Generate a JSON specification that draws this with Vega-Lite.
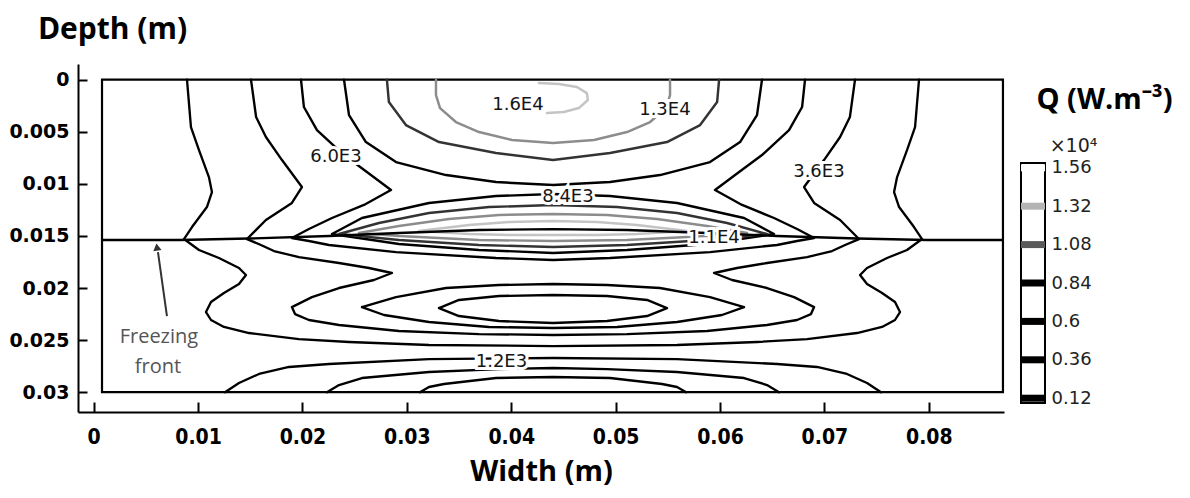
{
"$schema": "https://vega.github.io/schema/vega-lite/v6.json",
"background": "white",
"autosize": {"type": "pad"},
"padding": {"left": 8, "top": 14, "right": 0, "bottom": 8},
"bounds": "flush",
"spacing": 17,
"config": {"view": {"stroke": null}, "axis": {"grid": false}},
"resolve": {"scale": {"x": "independent", "y": "independent", "color": "independent", "stroke": "independent", "strokeWidth": "independent"}},
"datasets": {
"contours": [
{"c":"A","lv":"1200","i":0,"x":0.00894,"y":0},
{"c":"A","lv":"1200","i":1,"x":0.00932,"y":0.00455},
{"c":"A","lv":"1200","i":2,"x":0.01009,"y":0.00676},
{"c":"A","lv":"1200","i":3,"x":0.01104,"y":0.00935},
{"c":"A","lv":"1200","i":4,"x":0.01133,"y":0.01079},
{"c":"A","lv":"1200","i":5,"x":0.01085,"y":0.01223},
{"c":"A","lv":"1200","i":6,"x":0.00942,"y":0.01415},
{"c":"A","lv":"1200","i":7,"x":0.00865,"y":0.0153},
{"c":"A","lv":"1200","i":8,"x":0.01009,"y":0.01635},
{"c":"A","lv":"1200","i":9,"x":0.012,"y":0.01712},
{"c":"A","lv":"1200","i":10,"x":0.01392,"y":0.01808},
{"c":"A","lv":"1200","i":11,"x":0.01459,"y":0.01875},
{"c":"A","lv":"1200","i":12,"x":0.01392,"y":0.01962},
{"c":"A","lv":"1200","i":13,"x":0.01248,"y":0.02048},
{"c":"A","lv":"1200","i":14,"x":0.01124,"y":0.02135},
{"c":"A","lv":"1200","i":15,"x":0.01076,"y":0.02231},
{"c":"A","lv":"1200","i":16,"x":0.01124,"y":0.02307},
{"c":"A","lv":"1200","i":17,"x":0.01248,"y":0.02374},
{"c":"A","lv":"1200","i":18,"x":0.01488,"y":0.02432},
{"c":"A","lv":"1200","i":19,"x":0.01966,"y":0.0249},
{"c":"A","lv":"1200","i":20,"x":0.02446,"y":0.02518},
{"c":"A","lv":"1200","i":21,"x":0.03212,"y":0.02547},
{"c":"A","lv":"1200","i":22,"x":0.044,"y":0.02557},
{"c":"A","lv":"1200","i":23,"x":0.05588,"y":0.02547},
{"c":"A","lv":"1200","i":24,"x":0.06354,"y":0.02518},
{"c":"A","lv":"1200","i":25,"x":0.06834,"y":0.0249},
{"c":"A","lv":"1200","i":26,"x":0.07312,"y":0.02432},
{"c":"A","lv":"1200","i":27,"x":0.07552,"y":0.02374},
{"c":"A","lv":"1200","i":28,"x":0.07676,"y":0.02307},
{"c":"A","lv":"1200","i":29,"x":0.07724,"y":0.02231},
{"c":"A","lv":"1200","i":30,"x":0.07676,"y":0.02135},
{"c":"A","lv":"1200","i":31,"x":0.07552,"y":0.02048},
{"c":"A","lv":"1200","i":32,"x":0.07408,"y":0.01962},
{"c":"A","lv":"1200","i":33,"x":0.07341,"y":0.01875},
{"c":"A","lv":"1200","i":34,"x":0.07408,"y":0.01808},
{"c":"A","lv":"1200","i":35,"x":0.076,"y":0.01712},
{"c":"A","lv":"1200","i":36,"x":0.07791,"y":0.01635},
{"c":"A","lv":"1200","i":37,"x":0.07935,"y":0.0153},
{"c":"A","lv":"1200","i":38,"x":0.07858,"y":0.01415},
{"c":"A","lv":"1200","i":39,"x":0.07715,"y":0.01223},
{"c":"A","lv":"1200","i":40,"x":0.07667,"y":0.01079},
{"c":"A","lv":"1200","i":41,"x":0.07696,"y":0.00935},
{"c":"A","lv":"1200","i":42,"x":0.07791,"y":0.00676},
{"c":"A","lv":"1200","i":43,"x":0.07868,"y":0.00455},
{"c":"A","lv":"1200","i":44,"x":0.07906,"y":0},
{"c":"B","lv":"3600","i":0,"x":0.01507,"y":0},
{"c":"B","lv":"3600","i":1,"x":0.01556,"y":0.00359},
{"c":"B","lv":"3600","i":2,"x":0.0165,"y":0.00551},
{"c":"B","lv":"3600","i":3,"x":0.01804,"y":0.00772},
{"c":"B","lv":"3600","i":4,"x":0.01995,"y":0.01031},
{"c":"B","lv":"3600","i":5,"x":0.01899,"y":0.01184},
{"c":"B","lv":"3600","i":6,"x":0.0165,"y":0.01347},
{"c":"B","lv":"3600","i":7,"x":0.01469,"y":0.0153},
{"c":"B","lv":"3600","i":8,"x":0.01602,"y":0.01587},
{"c":"B","lv":"3600","i":9,"x":0.01727,"y":0.01645},
{"c":"B","lv":"3600","i":10,"x":0.01966,"y":0.01703},
{"c":"B","lv":"3600","i":11,"x":0.0235,"y":0.0176},
{"c":"B","lv":"3600","i":12,"x":0.02637,"y":0.01808},
{"c":"B","lv":"3600","i":13,"x":0.02857,"y":0.01856},
{"c":"B","lv":"3600","i":14,"x":0.02685,"y":0.01923},
{"c":"B","lv":"3600","i":15,"x":0.0235,"y":0.02},
{"c":"B","lv":"3600","i":16,"x":0.02091,"y":0.02087},
{"c":"B","lv":"3600","i":17,"x":0.01899,"y":0.02183},
{"c":"B","lv":"3600","i":18,"x":0.01929,"y":0.0225},
{"c":"B","lv":"3600","i":19,"x":0.02062,"y":0.02307},
{"c":"B","lv":"3600","i":20,"x":0.0235,"y":0.02355},
{"c":"B","lv":"3600","i":21,"x":0.02924,"y":0.02413},
{"c":"B","lv":"3600","i":22,"x":0.03691,"y":0.02442},
{"c":"B","lv":"3600","i":23,"x":0.044,"y":0.02451},
{"c":"B","lv":"3600","i":24,"x":0.05109,"y":0.02442},
{"c":"B","lv":"3600","i":25,"x":0.05876,"y":0.02413},
{"c":"B","lv":"3600","i":26,"x":0.0645,"y":0.02355},
{"c":"B","lv":"3600","i":27,"x":0.06738,"y":0.02307},
{"c":"B","lv":"3600","i":28,"x":0.06871,"y":0.0225},
{"c":"B","lv":"3600","i":29,"x":0.06901,"y":0.02183},
{"c":"B","lv":"3600","i":30,"x":0.06709,"y":0.02087},
{"c":"B","lv":"3600","i":31,"x":0.0645,"y":0.02},
{"c":"B","lv":"3600","i":32,"x":0.06115,"y":0.01923},
{"c":"B","lv":"3600","i":33,"x":0.05943,"y":0.01856},
{"c":"B","lv":"3600","i":34,"x":0.06163,"y":0.01808},
{"c":"B","lv":"3600","i":35,"x":0.0645,"y":0.0176},
{"c":"B","lv":"3600","i":36,"x":0.06834,"y":0.01703},
{"c":"B","lv":"3600","i":37,"x":0.07073,"y":0.01645},
{"c":"B","lv":"3600","i":38,"x":0.07198,"y":0.01587},
{"c":"B","lv":"3600","i":39,"x":0.07331,"y":0.0153},
{"c":"B","lv":"3600","i":40,"x":0.0715,"y":0.01347},
{"c":"B","lv":"3600","i":41,"x":0.06901,"y":0.01184},
{"c":"B","lv":"3600","i":42,"x":0.06805,"y":0.01031},
{"c":"B","lv":"3600","i":43,"x":0.06996,"y":0.00772},
{"c":"B","lv":"3600","i":44,"x":0.0715,"y":0.00551},
{"c":"B","lv":"3600","i":45,"x":0.07244,"y":0.00359},
{"c":"B","lv":"3600","i":46,"x":0.07293,"y":0},
{"c":"C","lv":"6000","i":0,"x":0.01986,"y":0},
{"c":"C","lv":"6000","i":1,"x":0.02014,"y":0.00263},
{"c":"C","lv":"6000","i":2,"x":0.02139,"y":0.00484},
{"c":"C","lv":"6000","i":3,"x":0.02398,"y":0.00724},
{"c":"C","lv":"6000","i":4,"x":0.02656,"y":0.00916},
{"c":"C","lv":"6000","i":5,"x":0.02848,"y":0.0106},
{"c":"C","lv":"6000","i":6,"x":0.02589,"y":0.01203},
{"c":"C","lv":"6000","i":7,"x":0.02283,"y":0.01328},
{"c":"C","lv":"6000","i":8,"x":0.02062,"y":0.01434},
{"c":"C","lv":"6000","i":9,"x":0.01899,"y":0.0152},
{"c":"C","lv":"6000","i":10,"x":0.02062,"y":0.01549},
{"c":"C","lv":"6000","i":11,"x":0.02254,"y":0.01587},
{"c":"C","lv":"6000","i":12,"x":0.02896,"y":0.01655},
{"c":"C","lv":"6000","i":13,"x":0.03854,"y":0.01712},
{"c":"C","lv":"6000","i":14,"x":0.044,"y":0.01731},
{"c":"C","lv":"6000","i":15,"x":0.04946,"y":0.01712},
{"c":"C","lv":"6000","i":16,"x":0.05904,"y":0.01655},
{"c":"C","lv":"6000","i":17,"x":0.06546,"y":0.01587},
{"c":"C","lv":"6000","i":18,"x":0.06738,"y":0.01549},
{"c":"C","lv":"6000","i":19,"x":0.06901,"y":0.0152},
{"c":"C","lv":"6000","i":20,"x":0.06738,"y":0.01434},
{"c":"C","lv":"6000","i":21,"x":0.06517,"y":0.01328},
{"c":"C","lv":"6000","i":22,"x":0.06211,"y":0.01203},
{"c":"C","lv":"6000","i":23,"x":0.05952,"y":0.0106},
{"c":"C","lv":"6000","i":24,"x":0.06144,"y":0.00916},
{"c":"C","lv":"6000","i":25,"x":0.06402,"y":0.00724},
{"c":"C","lv":"6000","i":26,"x":0.06661,"y":0.00484},
{"c":"C","lv":"6000","i":27,"x":0.06786,"y":0.00263},
{"c":"C","lv":"6000","i":28,"x":0.06814,"y":0},
{"c":"D","lv":"8400","i":0,"x":0.02398,"y":0},
{"c":"D","lv":"8400","i":1,"x":0.02446,"y":0.0034},
{"c":"D","lv":"8400","i":2,"x":0.02608,"y":0.00599},
{"c":"D","lv":"8400","i":3,"x":0.02896,"y":0.00791},
{"c":"D","lv":"8400","i":4,"x":0.03375,"y":0.00916},
{"c":"D","lv":"8400","i":5,"x":0.03854,"y":0.00983},
{"c":"D","lv":"8400","i":6,"x":0.044,"y":0.01012},
{"c":"D","lv":"8400","i":7,"x":0.04946,"y":0.00983},
{"c":"D","lv":"8400","i":8,"x":0.05425,"y":0.00916},
{"c":"D","lv":"8400","i":9,"x":0.05904,"y":0.00791},
{"c":"D","lv":"8400","i":10,"x":0.06192,"y":0.00599},
{"c":"D","lv":"8400","i":11,"x":0.06354,"y":0.0034},
{"c":"D","lv":"8400","i":12,"x":0.06402,"y":0},
{"c":"E","lv":"8400","i":0,"x":0.02283,"y":0.01482},
{"c":"E","lv":"8400","i":1,"x":0.0257,"y":0.01328},
{"c":"E","lv":"8400","i":2,"x":0.03212,"y":0.01184},
{"c":"E","lv":"8400","i":3,"x":0.03854,"y":0.01117},
{"c":"E","lv":"8400","i":4,"x":0.044,"y":0.01098},
{"c":"E","lv":"8400","i":5,"x":0.04946,"y":0.01117},
{"c":"E","lv":"8400","i":6,"x":0.05588,"y":0.01184},
{"c":"E","lv":"8400","i":7,"x":0.0623,"y":0.01328},
{"c":"E","lv":"8400","i":8,"x":0.06517,"y":0.01482},
{"c":"E","lv":"8400","i":9,"x":0.05876,"y":0.01578},
{"c":"E","lv":"8400","i":10,"x":0.05109,"y":0.01635},
{"c":"E","lv":"8400","i":11,"x":0.044,"y":0.01664},
{"c":"E","lv":"8400","i":12,"x":0.03691,"y":0.01635},
{"c":"E","lv":"8400","i":13,"x":0.02924,"y":0.01578},
{"c":"E","lv":"8400","i":14,"x":0.02283,"y":0.01482},
{"c":"F","lv":"10800","i":0,"x":0.02809,"y":0},
{"c":"F","lv":"10800","i":1,"x":0.02828,"y":0.00215},
{"c":"F","lv":"10800","i":2,"x":0.02991,"y":0.00436},
{"c":"F","lv":"10800","i":3,"x":0.03308,"y":0.00599},
{"c":"F","lv":"10800","i":4,"x":0.03854,"y":0.00704},
{"c":"F","lv":"10800","i":5,"x":0.044,"y":0.00772},
{"c":"F","lv":"10800","i":6,"x":0.04946,"y":0.00704},
{"c":"F","lv":"10800","i":7,"x":0.05492,"y":0.00599},
{"c":"F","lv":"10800","i":8,"x":0.05809,"y":0.00436},
{"c":"F","lv":"10800","i":9,"x":0.05972,"y":0.00215},
{"c":"F","lv":"10800","i":10,"x":0.05991,"y":0},
{"c":"G","lv":"10800","i":0,"x":0.0235,"y":0.01482},
{"c":"G","lv":"10800","i":1,"x":0.02733,"y":0.01376},
{"c":"G","lv":"10800","i":2,"x":0.03212,"y":0.0128},
{"c":"G","lv":"10800","i":3,"x":0.03787,"y":0.01223},
{"c":"G","lv":"10800","i":4,"x":0.044,"y":0.01203},
{"c":"G","lv":"10800","i":5,"x":0.05013,"y":0.01223},
{"c":"G","lv":"10800","i":6,"x":0.05588,"y":0.0128},
{"c":"G","lv":"10800","i":7,"x":0.06067,"y":0.01376},
{"c":"G","lv":"10800","i":8,"x":0.0645,"y":0.01482},
{"c":"G","lv":"10800","i":9,"x":0.05876,"y":0.01539},
{"c":"G","lv":"10800","i":10,"x":0.05109,"y":0.01587},
{"c":"G","lv":"10800","i":11,"x":0.044,"y":0.01607},
{"c":"G","lv":"10800","i":12,"x":0.03691,"y":0.01587},
{"c":"G","lv":"10800","i":13,"x":0.02924,"y":0.01539},
{"c":"G","lv":"10800","i":14,"x":0.0235,"y":0.01482},
{"c":"H","lv":"13200","i":0,"x":0.03279,"y":0},
{"c":"H","lv":"13200","i":1,"x":0.03279,"y":0.00148},
{"c":"H","lv":"13200","i":2,"x":0.03318,"y":0.00273},
{"c":"H","lv":"13200","i":3,"x":0.0347,"y":0.00407},
{"c":"H","lv":"13200","i":4,"x":0.03691,"y":0.00503},
{"c":"H","lv":"13200","i":5,"x":0.04007,"y":0.0058},
{"c":"H","lv":"13200","i":6,"x":0.044,"y":0.00608},
{"c":"H","lv":"13200","i":7,"x":0.04793,"y":0.0058},
{"c":"H","lv":"13200","i":8,"x":0.05109,"y":0.00503},
{"c":"H","lv":"13200","i":9,"x":0.0533,"y":0.00407},
{"c":"H","lv":"13200","i":10,"x":0.05482,"y":0.00273},
{"c":"H","lv":"13200","i":11,"x":0.05521,"y":0.00148},
{"c":"H","lv":"13200","i":12,"x":0.05521,"y":0},
{"c":"I","lv":"13200","i":0,"x":0.02541,"y":0.01472},
{"c":"I","lv":"13200","i":1,"x":0.02924,"y":0.01405},
{"c":"I","lv":"13200","i":2,"x":0.03403,"y":0.01338},
{"c":"I","lv":"13200","i":3,"x":0.03882,"y":0.01299},
{"c":"I","lv":"13200","i":4,"x":0.044,"y":0.0129},
{"c":"I","lv":"13200","i":5,"x":0.04918,"y":0.01299},
{"c":"I","lv":"13200","i":6,"x":0.05397,"y":0.01338},
{"c":"I","lv":"13200","i":7,"x":0.05876,"y":0.01405},
{"c":"I","lv":"13200","i":8,"x":0.06259,"y":0.01472},
{"c":"I","lv":"13200","i":9,"x":0.05876,"y":0.01501},
{"c":"I","lv":"13200","i":10,"x":0.05109,"y":0.01539},
{"c":"I","lv":"13200","i":11,"x":0.044,"y":0.01549},
{"c":"I","lv":"13200","i":12,"x":0.03691,"y":0.01539},
{"c":"I","lv":"13200","i":13,"x":0.02924,"y":0.01501},
{"c":"I","lv":"13200","i":14,"x":0.02541,"y":0.01472},
{"c":"J","lv":"15600","i":0,"x":0.03116,"y":0.01453},
{"c":"J","lv":"15600","i":1,"x":0.03595,"y":0.01395},
{"c":"J","lv":"15600","i":2,"x":0.03978,"y":0.01367},
{"c":"J","lv":"15600","i":3,"x":0.044,"y":0.01357},
{"c":"J","lv":"15600","i":4,"x":0.04822,"y":0.01367},
{"c":"J","lv":"15600","i":5,"x":0.05205,"y":0.01395},
{"c":"J","lv":"15600","i":6,"x":0.05684,"y":0.01453},
{"c":"J","lv":"15600","i":7,"x":0.05205,"y":0.01482},
{"c":"J","lv":"15600","i":8,"x":0.04822,"y":0.01491},
{"c":"J","lv":"15600","i":9,"x":0.044,"y":0.01491},
{"c":"J","lv":"15600","i":10,"x":0.03978,"y":0.01491},
{"c":"J","lv":"15600","i":11,"x":0.03595,"y":0.01482},
{"c":"J","lv":"15600","i":12,"x":0.03116,"y":0.01453},
{"c":"K","lv":"15600","i":0,"x":0.04342,"y":0.00321},
{"c":"K","lv":"15600","i":1,"x":0.04504,"y":0.00311},
{"c":"K","lv":"15600","i":2,"x":0.04648,"y":0.00273},
{"c":"K","lv":"15600","i":3,"x":0.04734,"y":0.00196},
{"c":"K","lv":"15600","i":4,"x":0.04724,"y":0.00129},
{"c":"K","lv":"15600","i":5,"x":0.04629,"y":0.00071},
{"c":"K","lv":"15600","i":6,"x":0.04456,"y":0.00042},
{"c":"K","lv":"15600","i":7,"x":0.04265,"y":0.00033},
{"c":"L","lv":"6000","i":0,"x":0.0257,"y":0.02183},
{"c":"L","lv":"6000","i":1,"x":0.02896,"y":0.02087},
{"c":"L","lv":"6000","i":2,"x":0.03375,"y":0.02},
{"c":"L","lv":"6000","i":3,"x":0.03882,"y":0.01971},
{"c":"L","lv":"6000","i":4,"x":0.044,"y":0.01962},
{"c":"L","lv":"6000","i":5,"x":0.04918,"y":0.01971},
{"c":"L","lv":"6000","i":6,"x":0.05425,"y":0.02},
{"c":"L","lv":"6000","i":7,"x":0.05904,"y":0.02087},
{"c":"L","lv":"6000","i":8,"x":0.0623,"y":0.02183},
{"c":"L","lv":"6000","i":9,"x":0.06019,"y":0.02259},
{"c":"L","lv":"6000","i":10,"x":0.05588,"y":0.02326},
{"c":"L","lv":"6000","i":11,"x":0.05013,"y":0.02374},
{"c":"L","lv":"6000","i":12,"x":0.044,"y":0.02384},
{"c":"L","lv":"6000","i":13,"x":0.03787,"y":0.02374},
{"c":"L","lv":"6000","i":14,"x":0.03212,"y":0.02326},
{"c":"L","lv":"6000","i":15,"x":0.02781,"y":0.02259},
{"c":"L","lv":"6000","i":16,"x":0.0257,"y":0.02183},
{"c":"M","lv":"8400","i":0,"x":0.03308,"y":0.02192},
{"c":"M","lv":"8400","i":1,"x":0.03499,"y":0.02115},
{"c":"M","lv":"8400","i":2,"x":0.03882,"y":0.02077},
{"c":"M","lv":"8400","i":3,"x":0.044,"y":0.02067},
{"c":"M","lv":"8400","i":4,"x":0.04918,"y":0.02077},
{"c":"M","lv":"8400","i":5,"x":0.05301,"y":0.02115},
{"c":"M","lv":"8400","i":6,"x":0.05492,"y":0.02192},
{"c":"M","lv":"8400","i":7,"x":0.05301,"y":0.02269},
{"c":"M","lv":"8400","i":8,"x":0.04918,"y":0.02317},
{"c":"M","lv":"8400","i":9,"x":0.044,"y":0.02336},
{"c":"M","lv":"8400","i":10,"x":0.03882,"y":0.02317},
{"c":"M","lv":"8400","i":11,"x":0.03499,"y":0.02269},
{"c":"M","lv":"8400","i":12,"x":0.03308,"y":0.02192},
{"c":"N","lv":"1200","i":0,"x":0.01258,"y":0.03},
{"c":"N","lv":"1200","i":1,"x":0.01392,"y":0.02912},
{"c":"N","lv":"1200","i":2,"x":0.01584,"y":0.02825},
{"c":"N","lv":"1200","i":3,"x":0.01871,"y":0.02758},
{"c":"N","lv":"1200","i":4,"x":0.02254,"y":0.02729},
{"c":"N","lv":"1200","i":5,"x":0.03212,"y":0.02682},
{"c":"N","lv":"1200","i":6,"x":0.044,"y":0.02672},
{"c":"N","lv":"1200","i":7,"x":0.05588,"y":0.02682},
{"c":"N","lv":"1200","i":8,"x":0.06546,"y":0.02729},
{"c":"N","lv":"1200","i":9,"x":0.06929,"y":0.02758},
{"c":"N","lv":"1200","i":10,"x":0.07216,"y":0.02825},
{"c":"N","lv":"1200","i":11,"x":0.07408,"y":0.02912},
{"c":"N","lv":"1200","i":12,"x":0.07542,"y":0.03},
{"c":"O","lv":"3600","i":0,"x":0.02235,"y":0.03},
{"c":"O","lv":"3600","i":1,"x":0.0235,"y":0.02931},
{"c":"O","lv":"3600","i":2,"x":0.0257,"y":0.02864},
{"c":"O","lv":"3600","i":3,"x":0.03212,"y":0.02806},
{"c":"O","lv":"3600","i":4,"x":0.03882,"y":0.02778},
{"c":"O","lv":"3600","i":5,"x":0.044,"y":0.02768},
{"c":"O","lv":"3600","i":6,"x":0.04918,"y":0.02778},
{"c":"O","lv":"3600","i":7,"x":0.05588,"y":0.02806},
{"c":"O","lv":"3600","i":8,"x":0.0623,"y":0.02864},
{"c":"O","lv":"3600","i":9,"x":0.0645,"y":0.02931},
{"c":"O","lv":"3600","i":10,"x":0.06565,"y":0.03},
{"c":"P","lv":"6000","i":0,"x":0.03125,"y":0.03},
{"c":"P","lv":"6000","i":1,"x":0.03212,"y":0.0295},
{"c":"P","lv":"6000","i":2,"x":0.03355,"y":0.02921},
{"c":"P","lv":"6000","i":3,"x":0.03854,"y":0.02864},
{"c":"P","lv":"6000","i":4,"x":0.044,"y":0.02854},
{"c":"P","lv":"6000","i":5,"x":0.04946,"y":0.02864},
{"c":"P","lv":"6000","i":6,"x":0.05445,"y":0.02921},
{"c":"P","lv":"6000","i":7,"x":0.05588,"y":0.0295},
{"c":"P","lv":"6000","i":8,"x":0.05675,"y":0.03},
{"c":"Z","lv":"front","i":0,"x":0.0008,"y":0.01539},
{"c":"Z","lv":"front","i":1,"x":0.00817,"y":0.01539},
{"c":"Z","lv":"front","i":2,"x":0.01488,"y":0.01525},
{"c":"Z","lv":"front","i":3,"x":0.02254,"y":0.01501},
{"c":"Z","lv":"front","i":4,"x":0.02924,"y":0.01472},
{"c":"Z","lv":"front","i":5,"x":0.03691,"y":0.01443},
{"c":"Z","lv":"front","i":6,"x":0.044,"y":0.01434},
{"c":"Z","lv":"front","i":7,"x":0.05109,"y":0.01443},
{"c":"Z","lv":"front","i":8,"x":0.05876,"y":0.01472},
{"c":"Z","lv":"front","i":9,"x":0.06546,"y":0.01501},
{"c":"Z","lv":"front","i":10,"x":0.07312,"y":0.01525},
{"c":"Z","lv":"front","i":11,"x":0.07983,"y":0.01539},
{"c":"Z","lv":"front","i":12,"x":0.0871,"y":0.01539}
],
"labels": [
{"t":"1.6E4","x":0.04064,"y":0.00244},
{"t":"1.3E4","x":0.05472,"y":0.00292},
{"t":"6.0E3","x":0.02321,"y":0.00743},
{"t":"8.4E3","x":0.04543,"y":0.01127},
{"t":"3.6E3","x":0.06947,"y":0.00887},
{"t":"1.1E4","x":0.05942,"y":0.0152},
{"t":"1.2E3","x":0.03906,"y":0.0271}
]
},
"hconcat": [
{
"width": 926,
"height": 348,
"layer": [
{
"data": {"values": [{"x": 0.0008, "x2": 0.0871, "y": 0, "y2": 0.03}]},
"mark": {"type": "rect", "fill": "transparent", "stroke": "black", "strokeWidth": 2.2},
"encoding": {
"x": {"field": "x", "type": "quantitative",
"scale": {"domain": [-0.0015, 0.0872], "nice": false, "zero": false},
"axis": {"title": "Width (m)", "values": [0,0.01,0.02,0.03,0.04,0.05,0.06,0.07,0.08], "format": ".3~g",
"tickSize": -10, "tickWidth": 2, "tickColor": "black", "domainColor": "black", "domainWidth": 2,
"labelFont": "Liberation Sans Narrow, DejaVu Sans Condensed, sans-serif", "labelFontWeight": "bold", "labelFontSize": 21, "labelColor": "black",
"labelPadding": 24, "labelFlush": false, "labelOverlap": false,
"titleFont": "Open Sans", "titleFontWeight": "bold", "titleFontSize": 29, "titleColor": "black", "titlePadding": 10}},
"x2": {"field": "x2"},
"y": {"field": "y", "type": "quantitative",
"scale": {"domain": [-0.0015, 0.0319], "reverse": true, "nice": false, "zero": false},
"axis": {"title": "Depth (m)", "values": [0,0.005,0.01,0.015,0.02,0.025,0.03], "format": ".3~g",
"tickSize": -9, "tickWidth": 2, "tickColor": "black", "domainColor": "black", "domainWidth": 2,
"labelFont": "DejaVu Sans", "labelFontWeight": "bold", "labelFontSize": 19, "labelColor": "black",
"labelPadding": 18, "labelFlush": false, "labelOverlap": false,
"titleAngle": 0, "titleX": 34, "titleY": -26, "titleAlign": "center", "titleBaseline": "alphabetic",
"titleFont": "Open Sans", "titleFontWeight": "bold", "titleFontSize": 30, "titleColor": "black"}},
"y2": {"field": "y2"}
}
},
{
"data": {"name": "contours"},
"mark": {"type": "line", "strokeJoin": "round", "strokeCap": "round"},
"encoding": {
"x": {"field": "x", "type": "quantitative"},
"y": {"field": "y", "type": "quantitative"},
"detail": {"field": "c"},
"order": {"field": "i"},
"stroke": {"field": "lv", "type": "nominal", "legend": null,
"scale": {"domain": ["front","1200","3600","6000","8400","10800","13200","15600"], "range": ["#000000","#000000","#000000","#000000","#000000","#333333","#8c8c8c","#c4c4c4"]}},
"strokeWidth": {"field": "lv", "type": "ordinal", "legend": null,
"scale": {"domain": ["front","1200","3600","6000","8400","10800","13200","15600"], "range": [2.3,2.5,2.5,2.5,2.5,2.3,1.9,1.7]}}
}
},
{
"data": {"name": "labels"},
"mark": {"type": "text", "font": "DejaVu Sans", "fontSize": 18, "fill": "white", "stroke": "white", "strokeWidth": 6, "align": "center", "baseline": "middle"},
"encoding": {"x": {"field": "x", "type": "quantitative"}, "y": {"field": "y", "type": "quantitative"}, "text": {"field": "t"}}
},
{
"data": {"name": "labels"},
"mark": {"type": "text", "font": "DejaVu Sans", "fontSize": 18, "fill": "#151515", "align": "center", "baseline": "middle"},
"encoding": {"x": {"field": "x", "type": "quantitative"}, "y": {"field": "y", "type": "quantitative"}, "text": {"field": "t"}}
},
{
"data": {"values": [{"t": "Freezing", "x": 0.00625, "y": 0.0247}, {"t": "front", "x": 0.00616, "y": 0.02758}]},
"mark": {"type": "text", "font": "Open Sans", "fontSize": 20, "fill": "#555555", "align": "center", "baseline": "middle"},
"encoding": {"x": {"field": "x", "type": "quantitative"}, "y": {"field": "y", "type": "quantitative"}, "text": {"field": "t"}}
},
{
"data": {"values": [{"i": 0, "x": 0.00702, "y": 0.02269}, {"i": 1, "x": 0.00616, "y": 0.01655}]},
"mark": {"type": "line", "stroke": "#333333", "strokeWidth": 2},
"encoding": {"x": {"field": "x", "type": "quantitative"}, "y": {"field": "y", "type": "quantitative"}, "order": {"field": "i"}}
},
{
"data": {"values": [{"x": 0.00606, "y": 0.01607}]},
"mark": {"type": "point", "shape": "triangle-up", "filled": true, "fill": "#333333", "size": 70, "angle": -8, "opacity": 1},
"encoding": {"x": {"field": "x", "type": "quantitative"}, "y": {"field": "y", "type": "quantitative"}}
}
]
},
{
"width": 24,
"height": 339,
"layer": [
{
"data": {"values": [{}]},
"mark": {"type": "rect", "fill": "white", "stroke": "black", "strokeWidth": 2},
"encoding": {
"x": {"datum": 0, "type": "quantitative", "scale": {"domain": [0, 1], "nice": false, "zero": false},
"axis": {"orient": "top", "title": "Q (W.m⁻³)", "labels": false, "ticks": false, "domain": false,
"titleX": 83, "titleY": 44, "titleAlign": "center", "titleBaseline": "alphabetic",
"titleFont": "Open Sans", "titleFontWeight": "bold", "titleFontSize": 29, "titleColor": "black"}},
"x2": {"datum": 1},
"y": {"datum": 0.09, "type": "quantitative", "scale": {"domain": [0.09, 2.20875], "nice": false, "zero": false},
"axis": {"orient": "right", "values": [0.12,0.36,0.6,0.84,1.08,1.32,1.56], "format": ".3~g", "ticks": false, "domain": false,
"labelPadding": 6, "labelFont": "DejaVu Sans", "labelFontSize": 18, "labelColor": "#222222", "labelFlush": false, "labelOverlap": false,
"title": "×10⁴", "titleAngle": 0, "titleX": 28, "titleY": 87, "titleAlign": "center", "titleBaseline": "alphabetic",
"titleFont": "DejaVu Sans", "titleFontSize": 19, "titleFontWeight": "normal", "titleColor": "#222222"}},
"y2": {"datum": 1.59}
}
},
{
"data": {"values": [{"q": 0.12, "lv": "1200"}, {"q": 0.36, "lv": "3600"}, {"q": 0.6, "lv": "6000"}, {"q": 0.84, "lv": "8400"}, {"q": 1.08, "lv": "10800"}, {"q": 1.32, "lv": "13200"}, {"q": 1.56, "lv": "15600"}]},
"mark": {"type": "rule", "strokeWidth": 7},
"encoding": {
"y": {"field": "q", "type": "quantitative"},
"color": {"field": "lv", "type": "nominal", "legend": null,
"scale": {"domain": ["1200","3600","6000","8400","10800","13200","15600"], "range": ["#000000","#000000","#000000","#000000","#5a5a5a","#b4b4b4","#ffffff"]}}
}
}
]
}
]
}
